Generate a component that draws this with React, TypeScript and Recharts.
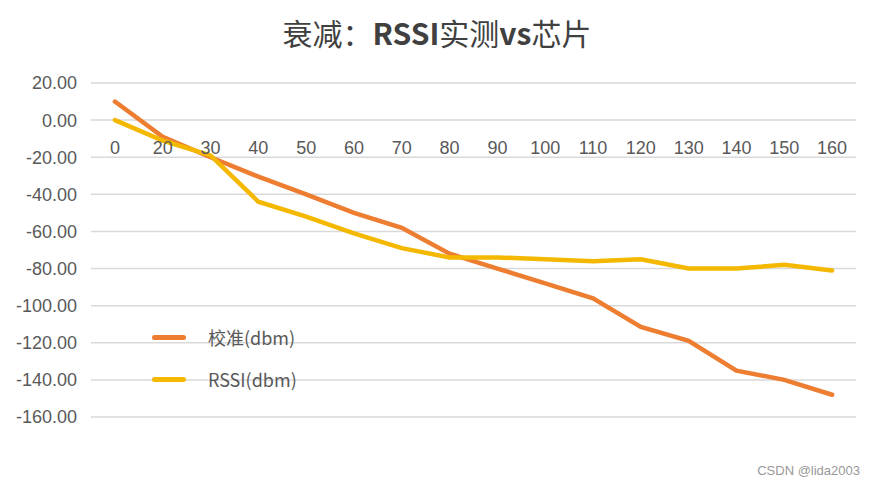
import React from "react";
import {
  ComposedChart,
  Line,
  XAxis,
  YAxis,
  CartesianGrid,
  ReferenceDot,
} from "recharts";

const categories = ["0", "20", "30", "40", "50", "60", "70", "80", "90", "100", "110", "120", "130", "140", "150", "160"];
const calibrated = [10, -9, -20, -30.5, -40, -50, -58, -72, -80, -88, -96, -111.5, -119, -135, -140, -148];
const rssi = [0, -11, -19, -44, -52, -61, -69, -74, -74, -75, -76, -75, -80, -80, -78, -81];
const yTicks = [20, 0, -20, -40, -60, -80, -100, -120, -140, -160];

const ORANGE = "#ED7D31";
const GOLD = "#F4B800";
const TEXT = "#595959";
const FONT = "'Liberation Sans', Arial, sans-serif";

const data = categories.map((c, i) => ({ cat: c, cal: calibrated[i], rssi: rssi[i] }));

const legendItems = [
  { name: "校准(dbm)", color: ORANGE },
  { name: "RSSI(dbm)", color: GOLD },
];

export default function App() {
  return (
    <div style={{ position: "relative", width: 874, height: 488, background: "#fff", fontFamily: FONT }}>
      <style>{"body{margin:0}"}</style>
      <div
        style={{
          position: "absolute",
          top: 12,
          left: 0,
          width: 874,
          textAlign: "center",
          fontSize: 30,
          lineHeight: "40px",
          color: "#404040",
          fontFamily: "'Noto Sans CJK SC', 'Noto Sans', sans-serif",
        }}
      >
        衰减：<b>RSSI</b>实测<b>vs</b>芯片
      </div>
      <ComposedChart
        width={874}
        height={488}
        data={data}
        margin={{ top: 83, right: 18, left: 0, bottom: 71 }}
      >
        <CartesianGrid vertical={false} stroke="#d9d9d9" strokeWidth={1.5} />
        <XAxis dataKey="cat" hide scale="band" />
        <YAxis
          domain={[-160, 20]}
          ticks={yTicks}
          width={91}
          axisLine={false}
          tickLine={false}
          tickSize={0}
          tickMargin={14}
          interval={0}
          tickFormatter={(v: number) => v.toFixed(2)}
          tick={{ fill: TEXT, fontSize: 18, fontFamily: FONT }}
        />
        {categories.map((c) => (
          <ReferenceDot
            key={c}
            x={c}
            y={0}
            r={0}
            fill="none"
            stroke="none"
            label={{ value: c, position: "bottom", offset: 21, fill: TEXT, fontSize: 18, fontFamily: FONT }}
          />
        ))}
        <Line
          type="linear"
          dataKey="cal"
          stroke={ORANGE}
          strokeWidth={4.5}
          strokeLinecap="round"
          dot={false}
          isAnimationActive={false}
        />
        <Line
          type="linear"
          dataKey="rssi"
          stroke={GOLD}
          strokeWidth={4.5}
          strokeLinecap="round"
          dot={false}
          isAnimationActive={false}
        />
      </ComposedChart>
      {legendItems.map((item, i) => (
        <div
          key={item.name}
          style={{
            position: "absolute",
            left: 152,
            top: 324 + i * 42,
            height: 26,
            display: "flex",
            alignItems: "center",
            fontSize: 18,
            color: TEXT,
          }}
        >
          <span
            style={{
              display: "inline-block",
              width: 34,
              height: 5,
              borderRadius: 3,
              background: item.color,
              marginRight: 22,
            }}
          />
          <span style={{ fontFamily: "'Noto Sans CJK SC', " + FONT }}>{item.name}</span>
        </div>
      ))}
      <div
        style={{
          position: "absolute",
          right: 14,
          top: 463,
          fontSize: 13,
          color: "#999",
          fontFamily: "'Liberation Sans', Arial, sans-serif",
        }}
      >
        CSDN @lida2003
      </div>
    </div>
  );
}
